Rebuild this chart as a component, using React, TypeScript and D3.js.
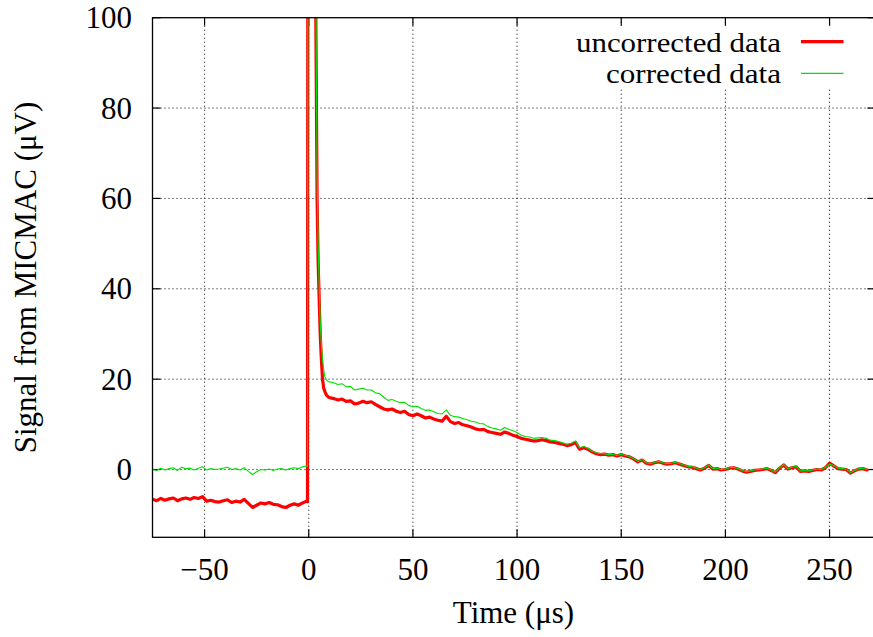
import React from 'react';
import * as d3 from 'd3';

// ---- sampling grid (µs) ----
const TIME_PRE = d3.range(-75, 0, 2);
const TIME_PULSE = [-0.6, -0.2, 3.0, 3.4, 3.7, 4.0, 4.5, 5.0, 5.5, 6.0, 6.6, 7.2, 7.7, 8.5, 9.3, 10];
const TIME_POST = d3.range(12, 269, 2);

// ---- uncorrected data (µV) ----
const UNCORR_PRE = [-6.6, -6.9, -6.4, -6.8, -6.5, -6.3, -6.9, -6.5, -6.3, -6.6, -6.2, -6.4, -6.0, -7.0, -6.8, -7.1, -7.2, -6.9, -6.7, -7.3,
  -7.0, -7.2, -6.6, -7.5, -8.4, -7.9, -7.4, -7.6, -7.3, -7.7, -7.8, -8.2, -8.4, -7.9, -7.6, -7.9, -7.4, -7.0];
const UNCORR_PULSE = [-7.1, 300, 300, 100, 80, 60, 46, 38, 30, 25, 20, 18, 17.3, 16.5, 16.1, 15.9];
const UNCORR_POST = [
  15.7, 15.4, 15.6, 15.1, 15.2, 14.5, 14.7, 15.1, 14.8, 15.0, 14.4, 13.9, 13.4, 13.2, 13.4, 12.9, 12.6, 12.9, 12.2, 11.9,
  12.3, 11.9, 11.4, 11.6, 11.2, 10.9, 10.7, 11.8, 10.6, 10.2, 10.4, 9.9, 9.7, 9.4, 9.0, 8.8, 8.9, 8.4, 8.2, 8.0,
  7.8, 8.3, 8.0, 7.6, 7.3, 6.9, 6.7, 6.5, 6.3, 6.4, 6.6, 6.4, 6.1, 6.0,
  5.8, 5.6, 5.3, 5.5, 6.0, 4.5, 4.8, 4.5, 3.9, 3.5, 3.3, 3.4, 3.2, 3.3, 3.0, 3.3, 3.0, 2.8, 2.3, 1.7,
  2.1, 1.4, 1.2, 1.5, 1.7, 1.4, 1.2, 1.3, 1.5, 1.2, 0.9, 0.6, 0.5, 0.2, -0.1, 0.3, 0.9, 0.1, 0.2, -0.1,
  0.0, 0.3, 0.4, 0.1, -0.3, -0.6, -0.4, -0.2, -0.1, 0.0, 0.2, -0.2, -0.7, 0.3, 1.0, 0.1, 0.4, 0.6, -0.4, -0.3,
  -0.4, -0.2, 0.0, -0.1, 0.4, 1.4, 0.8, 0.2, 0.1, 0.0, -0.8, -0.3, 0.1, 0.2, -0.1];

// ---- corrected data (µV) ----
const CORR_PRE = [0.0, -0.2, 0.3, -0.1, 0.2, 0.4, -0.2, 0.5, 0.2, 0.3, -0.1, 0.3, 0.6, -0.1, 0.2, 0.0, 0.1, 0.3, 0.5, 0.0,
  0.2, -0.1, 0.4, -0.4, -1.1, -0.5, 0.0, -0.1, 0.1, -0.2, 0.1, 0.2, -0.1, 0.2, 0.4, 0.2, 0.6, 0.8];
const CORR_PULSE = [0.7, 300, 300, 108, 86, 65, 50, 41, 33, 28, 24.5, 22, 20.6, 19.8, 19.5, 19.4];
const CORR_POST = [
  19.2, 18.8, 19.0, 18.3, 18.4, 17.6, 17.8, 18.0, 17.6, 17.6, 17.0, 16.8, 16.0, 15.3, 15.5, 15.1, 14.8, 14.9, 14.2, 13.9,
  14.0, 13.5, 13.1, 13.2, 12.8, 12.4, 12.3, 13.2, 12.0, 11.7, 11.6, 11.3, 11.0, 10.7, 10.5, 10.2, 10.1, 9.5, 9.2, 9.0,
  8.7, 9.3, 8.9, 8.6, 8.2, 7.6, 7.3, 7.2, 6.9, 7.0, 7.1, 6.9, 6.5, 6.4,
  6.2, 5.9, 5.6, 5.8, 6.3, 4.8, 5.1, 4.7, 4.1, 3.7, 3.5, 3.5, 3.3, 3.4, 3.1, 3.4, 3.1, 2.9, 2.4, 1.8,
  2.2, 1.5, 1.3, 1.6, 1.8, 1.5, 1.3, 1.4, 1.6, 1.3, 1.0, 0.7, 0.6, 0.3, 0.0, 0.4, 1.0, 0.2, 0.3, 0.0,
  0.1, 0.4, 0.5, 0.2, -0.2, -0.5, -0.3, -0.1, 0.0, 0.1, 0.3, -0.1, -0.6, 0.4, 1.1, 0.2, 0.5, 0.7, -0.3, -0.2,
  -0.3, -0.1, 0.1, 0.0, 0.5, 1.2, 0.9, 0.3, 0.2, 0.1, -0.7, -0.2, 0.2, 0.3, 0.0];

const X_TICKS = [-50, 0, 50, 100, 150, 200, 250];
const Y_TICKS = [0, 20, 40, 60, 80, 100];
const SERIES_NAMES = ['uncorrected data', 'corrected data'];
const SERIES_COLORS = ['#ff0000', '#00e000'];
const SERIES_WIDTHS = [3.2, 1.1];

const W = 873;
const H = 637;
const LEFT = 152.5;
const RIGHT = 875.4;
const TOP = 17.7;
const BOTTOM = 537.3;
const FONT = '"Liberation Serif", "Times New Roman", Times, serif';
const FS = 31;
const LEGEND_FS = 28;

function zip(times: number[], vals: number[]) {
  const n = Math.min(times.length, vals.length);
  const out: [number, number][] = [];
  for (let i = 0; i < n; i++) out.push([times[i], vals[i]]);
  return out;
}

export default function App() {
  const x = d3.scaleLinear().domain([-75, 272]).range([LEFT, RIGHT]);
  const y = d3.scaleLinear().domain([-15, 100]).range([BOTTOM, TOP]);

  const seriesData = [
    [...zip(TIME_PRE, UNCORR_PRE), ...zip(TIME_PULSE, UNCORR_PULSE), ...zip(TIME_POST, UNCORR_POST)],
    [...zip(TIME_PRE, CORR_PRE), ...zip(TIME_PULSE, CORR_PULSE), ...zip(TIME_POST, CORR_POST)],
  ];

  const line = d3.line<[number, number]>().x(d => x(d[0])).y(d => y(d[1]));
  const fmt = d3.format('d');

  const legendRight = 781;
  const legendRows = [51.6, 83.4];
  const legendWidths = [205, 175];

  return (
    <svg width={W} height={H} style={{ position: 'absolute', left: 0, top: 0, background: '#fff' }}
      fontFamily={FONT}>
      <defs>
        <clipPath id="plotclip">
          <rect x={LEFT} y={TOP} width={RIGHT - LEFT} height={BOTTOM - TOP} />
        </clipPath>
      </defs>
      <rect x={0} y={0} width={W} height={H} fill="#fff" />

      {/* grid */}
      {X_TICKS.map(t => (
        <line key={'gx' + t} x1={x(t)} x2={x(t)} y1={TOP} y2={BOTTOM}
          stroke="#000" strokeWidth={1} strokeDasharray="1,3" />
      ))}
      {Y_TICKS.filter(v => v < 100).map(v => (
        <line key={'gy' + v} x1={LEFT} x2={RIGHT} y1={y(v)} y2={y(v)}
          stroke="#000" strokeWidth={1} strokeDasharray="1,3" />
      ))}

      {/* opaque key area */}
      <rect x={560} y={26} width={W - 560} height={63} fill="#fff" />

      {/* ticks */}
      {X_TICKS.map(t => (
        <g key={'tx' + t}>
          <line x1={x(t)} x2={x(t)} y1={BOTTOM} y2={BOTTOM - 8} stroke="#000" strokeWidth={1.2} />
          <line x1={x(t)} x2={x(t)} y1={TOP} y2={TOP + 8} stroke="#000" strokeWidth={1.2} />
        </g>
      ))}
      {Y_TICKS.map(v => (
        <g key={'ty' + v}>
          <line x1={LEFT} x2={LEFT + 8} y1={y(v)} y2={y(v)} stroke="#000" strokeWidth={1.2} />
          <line x1={RIGHT} x2={RIGHT - 8} y1={y(v)} y2={y(v)} stroke="#000" strokeWidth={1.2} />
        </g>
      ))}

      {/* data */}
      <g clipPath="url(#plotclip)">
        {seriesData.map((d, i) => (
          <path key={'s' + i} d={line(d) || ''} fill="none" stroke={SERIES_COLORS[i]}
            strokeWidth={SERIES_WIDTHS[i]} strokeLinejoin="round" strokeLinecap="round" />
        ))}
      </g>

      {/* border */}
      <rect x={LEFT} y={TOP} width={RIGHT - LEFT} height={BOTTOM - TOP} fill="none" stroke="#000" strokeWidth={1.3} />

      {/* tick labels */}
      {X_TICKS.map(t => (
        <text key={'lx' + t} x={x(t)} y={580} textAnchor="middle" fontSize={FS} fill="#000">
          {fmt(t)}
        </text>
      ))}
      {Y_TICKS.map(v => (
        <text key={'ly' + v} x={132} y={y(v) + 10.5} textAnchor="end" fontSize={FS} fill="#000">
          {fmt(v)}
        </text>
      ))}

      {/* axis titles */}
      <text x={513.5} y={623} textAnchor="middle" fontSize={FS} fill="#000">Time (μs)</text>
      <text transform={`translate(36,${(TOP + BOTTOM) / 2}) rotate(-90)`} textAnchor="middle" fontSize={FS} fill="#000">
        Signal from MICMAC (μV)
      </text>

      {/* legend */}
      {SERIES_NAMES.map((name, i) => (
        <g key={'leg' + i}>
          <text x={legendRight} y={legendRows[i]} textAnchor="end" fontSize={LEGEND_FS} fill="#000"
            textLength={legendWidths[i]} lengthAdjust="spacingAndGlyphs">{name}</text>
          <line x1={801} x2={843.5} y1={legendRows[i] - 10} y2={legendRows[i] - 10}
            stroke={SERIES_COLORS[i]} strokeWidth={SERIES_WIDTHS[i]} />
        </g>
      ))}
    </svg>
  );
}
